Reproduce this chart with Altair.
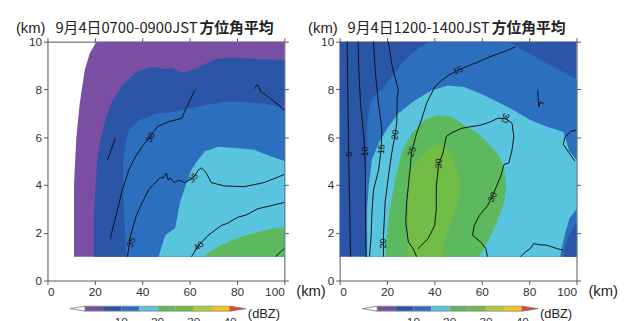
import altair as alt
import pandas as pd

# ---------------- colour levels (dBZ) ----------------
level_lo = [0, 5, 10, 15, 20, 25, 30, 35]
level_hi = [5, 10, 15, 20, 25, 30, 35, 40]
level_colors = ["#7a4fa3", "#2b55a6", "#2c6fbe", "#58c4dd",
                "#5db95e", "#72bd45", "#aacd3c", "#f3c41f"]
under_color = "#ffffff"
over_color = "#e8452c"
cb_ticks = [10, 20, 30, 40]

x_ticks = [0, 20, 40, 60, 80, 100]
y_ticks = [0, 2, 4, 6, 8, 10]

title1 = "9月4日0700-0900JST"
title2 = "9月4日1200-1400JST"
title_b = "方位角平均"

# ---------------- panel 1 : filled regions (x, lower z, upper z) ----------------
p1_l0_x = [11.2, 11.5, 12.2, 13.6, 15.7, 17.8, 20.6, 100]
p1_l0_lo = [1, 1, 1, 1, 1, 1, 1, 1]
p1_l0_hi = [4.0, 4.65, 6.0, 7.4, 8.8, 9.5, 10.0, 10.0]

p1_l1_x = [19.6, 21.2, 24.0, 26.8, 31.7, 38.6, 45.6, 49.7, 52.5, 56.7, 62.2, 66.4, 70.6, 77.5, 87.2, 100]
p1_l1_lo = [1] * 16
p1_l1_hi = [3.0, 5.3, 6.6, 7.4, 8.2, 8.8, 8.95, 8.85, 8.9, 8.7, 8.85, 9.05, 9.25, 9.35, 9.27, 9.23]

p1_l2_x = [31.9, 33.3, 34.4, 38.6, 45.6, 52.5, 59.4, 66.4, 74.7, 83, 91.4, 100]
p1_l2_lo = [3.5, 1, 1, 1, 1, 1, 1, 1, 1, 1, 1, 1]
p1_l2_hi = [5.0, 5.9, 6.3, 6.7, 6.97, 7.06, 7.2, 7.34, 7.48, 7.48, 7.4, 7.27]

p1_l3_x = [46.9, 49.7, 53.9, 56, 58.75, 60.8, 63.6, 66.4, 72, 80.3, 87.2, 94.2, 100]
p1_l3_lo = [1] * 13
p1_l3_hi = [1.0, 1.9, 2.2, 3.3, 4.1, 4.65, 5.06, 5.4, 5.6, 5.54, 5.48, 5.2, 5.0]

p1_l4_x = [65.7, 70.6, 77.5, 85.8, 94.2, 100]
p1_l4_lo = [1] * 6
p1_l4_hi = [1.0, 1.34, 1.68, 1.96, 2.17, 2.23]

# ---------------- panel 1 : contour lines ----------------
p1_c1_x = [26.5, 28.9, 31.7, 34.4, 37.2, 40.0, 43.5, 46.25, 51.1, 56.7, 58.75, 60.8, 62.2]
p1_c1_z = [1.75, 2.72, 3.82, 4.65, 5.2, 5.61, 6.03, 6.44, 6.65, 6.79, 7.27, 7.68, 7.96]
p1_c2_x = [25.4, 28.6]
p1_c2_z = [5.06, 5.96]
p1_c3_x = [33.75, 35.1, 37.5, 40.0, 42.8, 45.6, 47.5, 49.0, 50.2, 51.0, 51.8, 53.5, 55.5, 58.0, 61.5, 63.5, 65.0, 66.2, 67.0, 69.2, 74.7, 83.0, 91.4, 100]
p1_c3_z = [1.0, 1.89, 2.72, 3.27, 3.82, 4.1, 4.3, 4.3, 4.5, 4.2, 4.3, 4.1, 4.2, 4.1, 4.3, 4.6, 4.72, 4.6, 4.5, 4.1, 3.96, 3.93, 4.1, 4.44]
p1_c4_x = [60.8, 63.6, 67.8, 73.3, 76.0, 80.3, 84.0, 88.6, 94.2, 100]
p1_c4_z = [1.0, 1.45, 1.89, 2.3, 2.4, 2.65, 2.75, 3.0, 3.13, 3.27]
p1_c5_x = [96.25, 100]
p1_c5_z = [1.0, 1.34]
p1_c6_x = [87.2, 88.5, 89.3, 90.0, 91.4, 94.2, 96.9, 100]
p1_c6_z = [8.03, 8.2, 8.1, 7.9, 7.82, 7.61, 7.4, 7.13]

p1_lab_x = [43.5, 35.3, 61.5, 63.8]
p1_lab_z = [6.0, 1.6, 4.3, 1.45]
p1_lab_t = ["30", "35", "35", "40"]
p1_lab_a = [300, 290, 310, 320]

# ---------------- panel 2 : filled regions ----------------
p2_l1_x = [0, 100]
p2_l1_lo = [1, 1]
p2_l1_hi = [10, 10]

p2_l2_x = [10.5, 11.5, 13, 16, 18, 20, 24, 28, 33, 38, 71, 80, 90, 100]
p2_l2_lo = [1] * 14
p2_l2_hi = [1.0, 6.5, 7.5, 7.9, 8.0, 8.3, 8.8, 9.3, 9.7, 10.0, 10.0, 9.5, 8.95, 8.44]

p2_l3_x = [11.6, 12.3, 13.6, 16.4, 20.6, 24.8, 31.75, 38.7, 45.7, 52.6, 59.6, 66.6, 73.5, 80.5, 87.5, 94.4, 95.5, 97, 100]
p2_l3_lo = [1] * 19
p2_l3_hi = [3.0, 4.0, 5.06, 5.75, 6.44, 7.0, 7.54, 7.96, 8.17, 8.1, 7.82, 7.48, 7.13, 6.72, 6.44, 6.23, 5.9, 5.4, 5.06]

p2_l4_x = [19.2, 19.9, 21.3, 23.4, 26.2, 30.4, 35.9, 41.5, 47.1, 52.6, 58.9, 61, 65.2, 68, 69.5, 70.3]
p2_l4_lo = [1, 1, 1, 1, 1, 1, 1, 1, 1, 1, 1, 1.34, 2.17, 2.86, 3.3, 3.9]
p2_l4_hi = [1.0, 1.89, 3.0, 4.23, 5.34, 6.17, 6.72, 6.92, 6.86, 6.51, 6.1, 5.9, 5.48, 5.1, 4.6, 3.9]

p2_l5_x = [28.8, 29.5, 31, 33.1, 37.3, 41.5, 43, 45, 45.7, 48.5, 50.5, 51.2]
p2_l5_lo = [1, 1, 1, 1, 1, 1, 1, 1.89, 2.05, 2.86, 3.5, 3.9]
p2_l5_hi = [3.9, 4.4, 4.8, 5.0, 5.5, 5.68, 5.65, 5.55, 5.5, 4.92, 4.3, 3.96]

p2_m_x = [93.0, 95, 97, 100]
p2_m_lo = [1] * 4
p2_m_hi = [1.0, 1.9, 2.6, 3.0]

p2_d_x = [94.4, 96, 98, 100]
p2_d_lo = [1] * 4
p2_d_hi = [1.0, 1.7, 2.1, 2.44]

# ---------------- panel 2 : contour lines ----------------
p2_c1_x = [3.2, 3.5, 3.8, 4.2, 4.6]
p2_c1_z = [10, 7.4, 5.34, 3.27, 1.0]
p2_c2_x = [7.8, 8.1, 8.8, 10.2, 10.6, 10.9, 10.9, 11.1]
p2_c2_z = [10, 8.79, 7.4, 6.03, 5.4, 4.37, 2.58, 1.0]
p2_c3_x = [14.3, 15.0, 16.4, 17.8, 17.5, 16.4, 14.3, 13.6, 13.3, 12.6]
p2_c3_z = [10, 8.8, 7.4, 6.4, 5.47, 4.6, 3.8, 2.8, 1.9, 1.0]
p2_c4_x = [20.6, 22.0, 24.1, 24.8, 24.3, 24.1, 23.4, 22.0, 20.6, 19.2, 18.5, 18.5]
p2_c4_z = [10, 9.06, 8.23, 7.96, 7.7, 6.58, 6.1, 5.34, 4.37, 3.27, 1.89, 1.0]
p2_c5_x = [74.2, 70.0, 66.6, 63.0, 59.6, 56.0, 52.6, 49.9, 46.0, 42.9, 40.1, 38.0, 36.6, 34.5, 32.5, 31.0, 30.4, 29.7, 29.0, 28.3, 27.9, 29.0, 31.0, 32.5]
p2_c5_z = [9.78, 9.6, 9.48, 9.35, 9.2, 9.05, 8.92, 8.79, 8.6, 8.37, 8.1, 7.68, 7.4, 6.72, 6.17, 5.61, 5.4, 4.65, 3.96, 3.27, 2.44, 1.61, 1.34, 1.0]
p2_c6_x = [70.0, 66.6, 63.8, 59.6, 55.4, 51.3, 47.1, 45.0, 43.6, 41.8, 40.8, 40.8, 40.1, 37.3, 33.1]
p2_c6_z = [6.79, 6.79, 6.65, 6.51, 6.44, 6.37, 6.17, 6.03, 5.34, 4.86, 3.96, 3.0, 2.3, 1.75, 1.34]
p2_c7_x = [70.0, 72.8, 73.5, 72.8, 71.4, 69.4, 68.0, 64.5, 62.4, 58.9, 56.8, 56.1, 59.6, 61.7, 62.4]
p2_c7_z = [6.79, 6.58, 6.03, 5.48, 4.92, 4.86, 4.37, 3.54, 3.13, 2.72, 2.3, 1.89, 1.61, 1.34, 1.0]
p2_c8_x = [76.3, 78.5, 80.5, 81.9, 84.0, 87.5, 91.6, 94.4]
p2_c8_z = [1.0, 1.2, 1.34, 1.55, 1.5, 1.48, 1.34, 1.27]
p2_c9_x = [100, 97.5, 95.1, 94.4, 96.5, 99.3]
p2_c9_z = [6.3, 6.25, 6.0, 5.7, 5.4, 5.0]
p2_c10_x = [83.6, 84.0, 84.7, 86.1]
p2_c10_z = [7.96, 7.27, 7.48, 7.4]

p2_lab_x = [3.9, 10.6, 17.6, 23.4, 30.4, 41.8, 64.5, 70.0, 49.9, 18.5]
p2_lab_z = [5.3, 5.4, 5.5, 6.1, 5.4, 4.9, 3.5, 6.8, 8.8, 1.55]
p2_lab_t = ["5", "10", "15", "20", "25", "30", "30", "30", "15", "20"]
p2_lab_a = [270, 270, 275, 280, 290, 275, 295, 100, 335, 270]

# ---------------- builders ----------------
FONT = "Liberation Sans"
CJK = "Noto Sans CJK JP"
W, H = 240, 242
xs = alt.Scale(domain=[0, 100], nice=False, zero=False)
ys = alt.Scale(domain=[0, 10], nice=False, zero=False)


def fill(x, lo, hi, ci):
    df = pd.DataFrame({"x": x, "lo": lo, "hi": hi})
    return alt.Chart(df).mark_area(color=level_colors[ci], opacity=1, interpolate="linear").encode(
        x=alt.X("x:Q", scale=xs, axis=None),
        y=alt.Y("hi:Q", scale=ys, axis=None),
        y2="lo:Q",
    )


def lines(series):
    rows = []
    for k, (xv, zv) in enumerate(series):
        for i, (a, b) in enumerate(zip(xv, zv)):
            rows.append({"x": a, "z": b, "o": i, "id": k})
    return alt.Chart(pd.DataFrame(rows)).mark_line(color="#111", strokeWidth=1.0).encode(
        x=alt.X("x:Q", scale=xs, axis=None),
        y=alt.Y("z:Q", scale=ys, axis=None),
        detail="id:N",
        order="o:Q",
    )


def labels(xv, zv, tv, av):
    df = pd.DataFrame({"x": xv, "z": zv, "t": tv, "a": av})
    return alt.Chart(df).mark_text(fontSize=9, font=FONT, color="#111").encode(
        x=alt.X("x:Q", scale=xs, axis=None),
        y=alt.Y("z:Q", scale=ys, axis=None),
        text="t:N",
        angle=alt.Angle("a:Q", scale=None),
    )


def axes():
    df = pd.DataFrame({"x": [0, 100], "y": [0, 10]})
    common = dict(grid=False, title=None, tickSize=4, tickColor="#555", domainColor="#555",
                  labelFont=FONT, labelFontSize=12, labelColor="#333")
    a1 = alt.Chart(df).mark_point(opacity=0).encode(
        x=alt.X("x:Q", scale=xs, axis=alt.Axis(orient="bottom", values=x_ticks, labelPadding=2, **common)),
        y=alt.Y("y:Q", scale=ys, axis=alt.Axis(orient="left", values=y_ticks, labelPadding=2, **common)),
    )
    a2 = alt.Chart(df).mark_point(opacity=0).encode(
        x=alt.X("x:Q", scale=xs, axis=alt.Axis(orient="top", values=x_ticks, labels=False, **common)),
        y=alt.Y("y:Q", scale=ys, axis=alt.Axis(orient="right", values=y_ticks, labels=False, **common)),
    )
    return [a1, a2]


def text_at(t, x, y, size, align="left", weight="normal", font=CJK, baseline="middle"):
    return alt.Chart(pd.DataFrame({"t": [t]})).mark_text(
        align=align, baseline=baseline, fontSize=size, font=font, fontWeight=weight, color="#222"
    ).encode(x=alt.value(x), y=alt.value(y), text="t:N")


def panel(fills, line_series, lab, title):
    layers = [fill(*f) for f in fills]
    layers.append(lines(line_series))
    layers.append(labels(*lab))
    layers += axes()
    layers.append(text_at("(km)", -2, -14, 15, align="right", font=FONT))
    layers.append(text_at(title, 8, -14, 15))
    layers.append(text_at(title_b, 154, -14, 15, weight="bold"))
    layers.append(text_at("(km)", W + 12, H + 11, 15, font=FONT))
    return alt.layer(*layers).resolve_axis(x="independent", y="independent").properties(width=W, height=H)


def colorbar():
    cbx = alt.Scale(domain=[-10.34, 54.97], nice=False, zero=False)
    cby = alt.Scale(domain=[0, 1], nice=False, zero=False)
    seg = pd.DataFrame({"a": level_lo, "b": level_hi, "c": level_colors})
    bar = alt.Chart(seg).mark_rect().encode(
        x=alt.X("a:Q", scale=cbx, axis=None),
        x2="b:Q",
        y=alt.value(0),
        y2=alt.value(5),
        color=alt.Color("c:N", scale=None),
    )
    box = alt.Chart(pd.DataFrame({"a": [level_lo[0]], "b": [level_hi[-1]]})).mark_rect(
        fill=None, stroke="#888", strokeWidth=0.8).encode(
        x=alt.X("a:Q", scale=cbx, axis=None), x2="b:Q", y=alt.value(0), y2=alt.value(5))
    tri_l = pd.DataFrame({"x": [-4.1, 0], "lo": [0.5, 0], "hi": [0.5, 1]})
    tri_r = pd.DataFrame({"x": [40, 44.35], "lo": [0, 0.5], "hi": [1, 0.5]})
    tl = alt.Chart(tri_l).mark_area(fill=under_color, stroke="#777", strokeWidth=0.8).encode(
        x=alt.X("x:Q", scale=cbx, axis=None), y=alt.Y("hi:Q", scale=cby, axis=None), y2="lo:Q")
    tr = alt.Chart(tri_r).mark_area(fill=over_color, stroke="#777", strokeWidth=0.8).encode(
        x=alt.X("x:Q", scale=cbx, axis=None), y=alt.Y("hi:Q", scale=cby, axis=None), y2="lo:Q")
    ticks = alt.Chart(pd.DataFrame({"v": cb_ticks})).mark_text(
        baseline="top", fontSize=12, font=FONT, color="#333").encode(
        x=alt.X("v:Q", scale=cbx, axis=None), y=alt.value(11), text="v:Q")
    unit = text_at("(dBZ)", 203, 8, 13, font=FONT)
    return alt.layer(bar, box, tl, tr, ticks, unit).properties(width=W, height=5)


p1 = panel(
    [(p1_l0_x, p1_l0_lo, p1_l0_hi, 0), (p1_l1_x, p1_l1_lo, p1_l1_hi, 1),
     (p1_l2_x, p1_l2_lo, p1_l2_hi, 2), (p1_l3_x, p1_l3_lo, p1_l3_hi, 3),
     (p1_l4_x, p1_l4_lo, p1_l4_hi, 4)],
    [(p1_c1_x, p1_c1_z), (p1_c2_x, p1_c2_z), (p1_c3_x, p1_c3_z),
     (p1_c4_x, p1_c4_z), (p1_c5_x, p1_c5_z), (p1_c6_x, p1_c6_z)],
    (p1_lab_x, p1_lab_z, p1_lab_t, p1_lab_a),
    title1,
)
p2 = panel(
    [(p2_l1_x, p2_l1_lo, p2_l1_hi, 1), (p2_l2_x, p2_l2_lo, p2_l2_hi, 2),
     (p2_l3_x, p2_l3_lo, p2_l3_hi, 3), (p2_l4_x, p2_l4_lo, p2_l4_hi, 4),
     (p2_l5_x, p2_l5_lo, p2_l5_hi, 5), (p2_m_x, p2_m_lo, p2_m_hi, 2),
     (p2_d_x, p2_d_lo, p2_d_hi, 1)],
    [(p2_c1_x, p2_c1_z), (p2_c2_x, p2_c2_z), (p2_c3_x, p2_c3_z), (p2_c4_x, p2_c4_z),
     (p2_c5_x, p2_c5_z), (p2_c6_x, p2_c6_z), (p2_c7_x, p2_c7_z), (p2_c8_x, p2_c8_z),
     (p2_c9_x, p2_c9_z), (p2_c10_x, p2_c10_z)],
    (p2_lab_x, p2_lab_z, p2_lab_t, p2_lab_a),
    title2,
)

chart = alt.concat(
    p1, p2, colorbar(), colorbar(),
    columns=2,
    spacing=alt.RowColnumber(row=26, column=56),
    bounds="flush",
    align="each",
).properties(
    padding={"left": 8, "top": 11, "right": 0, "bottom": 0}, background="white"
).configure_view(stroke=None)

chart.save("out.html", embed_options={"renderer": "svg", "actions": False})
